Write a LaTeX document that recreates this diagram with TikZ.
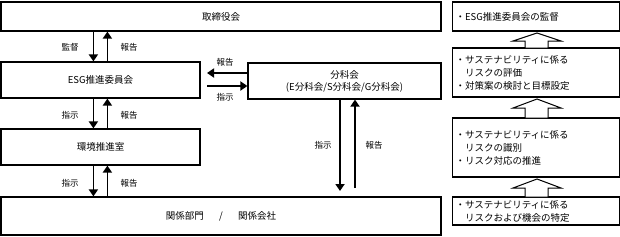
\documentclass[tikz,border=0pt]{standalone}
\usepackage{fontspec}
\setmainfont{Noto Sans CJK JP}
\usetikzlibrary{arrows.meta}
\begin{document}
\begin{tikzpicture}[x=1pt,y=-1pt,
  box/.style={draw, line width=1.2pt, inner sep=0pt, font=\fontsize{9.5}{12}\selectfont},
  rbox/.style={draw, line width=1.2pt, inner sep=0pt, font=\fontsize{9.5}{13}\selectfont},
  arr/.style={line width=1.8pt, -{Triangle[length=7pt,width=9pt]}},
  lbl/.style={font=\fontsize{8.5}{9}\selectfont, inner sep=1pt},
  blk/.style={draw, line width=1pt, fill=white}]
\useasboundingbox (0,0) rectangle (620,236);
% left boxes
\node[box, minimum width=440pt, minimum height=29pt] (board) at (221,16.5) {取締役会};
\node[box, minimum width=199pt, minimum height=36pt] (esg) at (100.5,80) {ESG推進委員会};
\node[box, minimum width=199pt, minimum height=36pt] (env) at (100.5,147) {環境推進室};
\node[box, minimum width=440pt, minimum height=38pt] (dept) at (221,216) {関係部門\hspace{1.6em}/\hspace{1.6em}関係会社};
\node[box, minimum width=193pt, minimum height=36pt, align=center] (sub) at (344.5,81) {分科会\\(E分科会/S分科会/G分科会)};
% right boxes
\node[rbox, minimum width=167pt, minimum height=29pt, text width=161pt, align=left] (r1) at (536,16.5) {・ESG推進委員会の監督};
\node[rbox, minimum width=167pt, minimum height=49pt, text width=161pt, align=left] (r2) at (536,72.5) {・サステナビリティに係る\\\hspace{1em}リスクの評価\\・対策案の検討と目標設定};
\node[rbox, minimum width=167pt, minimum height=59pt, text width=161pt, align=left] (r3) at (536,147.5) {・サステナビリティに係る\\\hspace{1em}リスクの識別\\・リスク対応の推進};
\node[rbox, minimum width=167pt, minimum height=28pt, text width=161pt, align=left] (r4) at (536,211) {・サステナビリティに係る\\\hspace{1em}リスクおよび機会の特定};
% vertical arrows left column
\draw[arr] ([xshift=93pt]board.south west) -- ([xshift=93pt]esg.north west);
\draw[arr] ([xshift=107pt]esg.north west) -- ([xshift=107pt]board.south west);
\node[lbl] (l1) at (70,47) {監督};
\node[lbl] (l2) at (129,47) {報告};
\draw[arr] ([xshift=93pt]esg.south west) -- ([xshift=93pt]env.north west);
\draw[arr] ([xshift=107pt]env.north west) -- ([xshift=107pt]esg.south west);
\node[lbl] (l3) at (70,115) {指示};
\node[lbl] (l4) at (129,115) {報告};
\draw[arr] ([xshift=93pt]env.south west) -- ([xshift=93pt]dept.north west);
\draw[arr] ([xshift=107pt]dept.north west) -- ([xshift=107pt]env.south west);
\node[lbl] (l5) at (70,183) {指示};
\node[lbl] (l6) at (129,183) {報告};
% horizontal arrows
\coordinate (hl) at (207,73);
\coordinate (hr) at (207,86);
\draw[arr] (sub.west |- hl) -- (hl);
\draw[arr] (hr) -- (sub.west |- hr);
\node[lbl] (l7) at (225,62) {報告};
\node[lbl] (l8) at (225,97) {指示};
% sub vertical arrows
\coordinate (dn1) at (340,191);
\coordinate (up0) at (355,188);
\draw[arr] (sub.south -| dn1) -- (dn1);
\draw[arr] (up0) -- (sub.south -| up0);
\node[lbl] (l9) at (323,145) {指示};
\node[lbl] (l10) at (374,145) {報告};
% block arrows
\foreach \t/\b/\e in {33/41/48, 99/108/118, 179/188/197}{
  \draw[blk] (537,\t) -- (561,\b) -- (548,\b) -- (548,\e) -- (525,\e) -- (525,\b) -- (513,\b) -- cycle;
}
\end{tikzpicture}
\end{document}
